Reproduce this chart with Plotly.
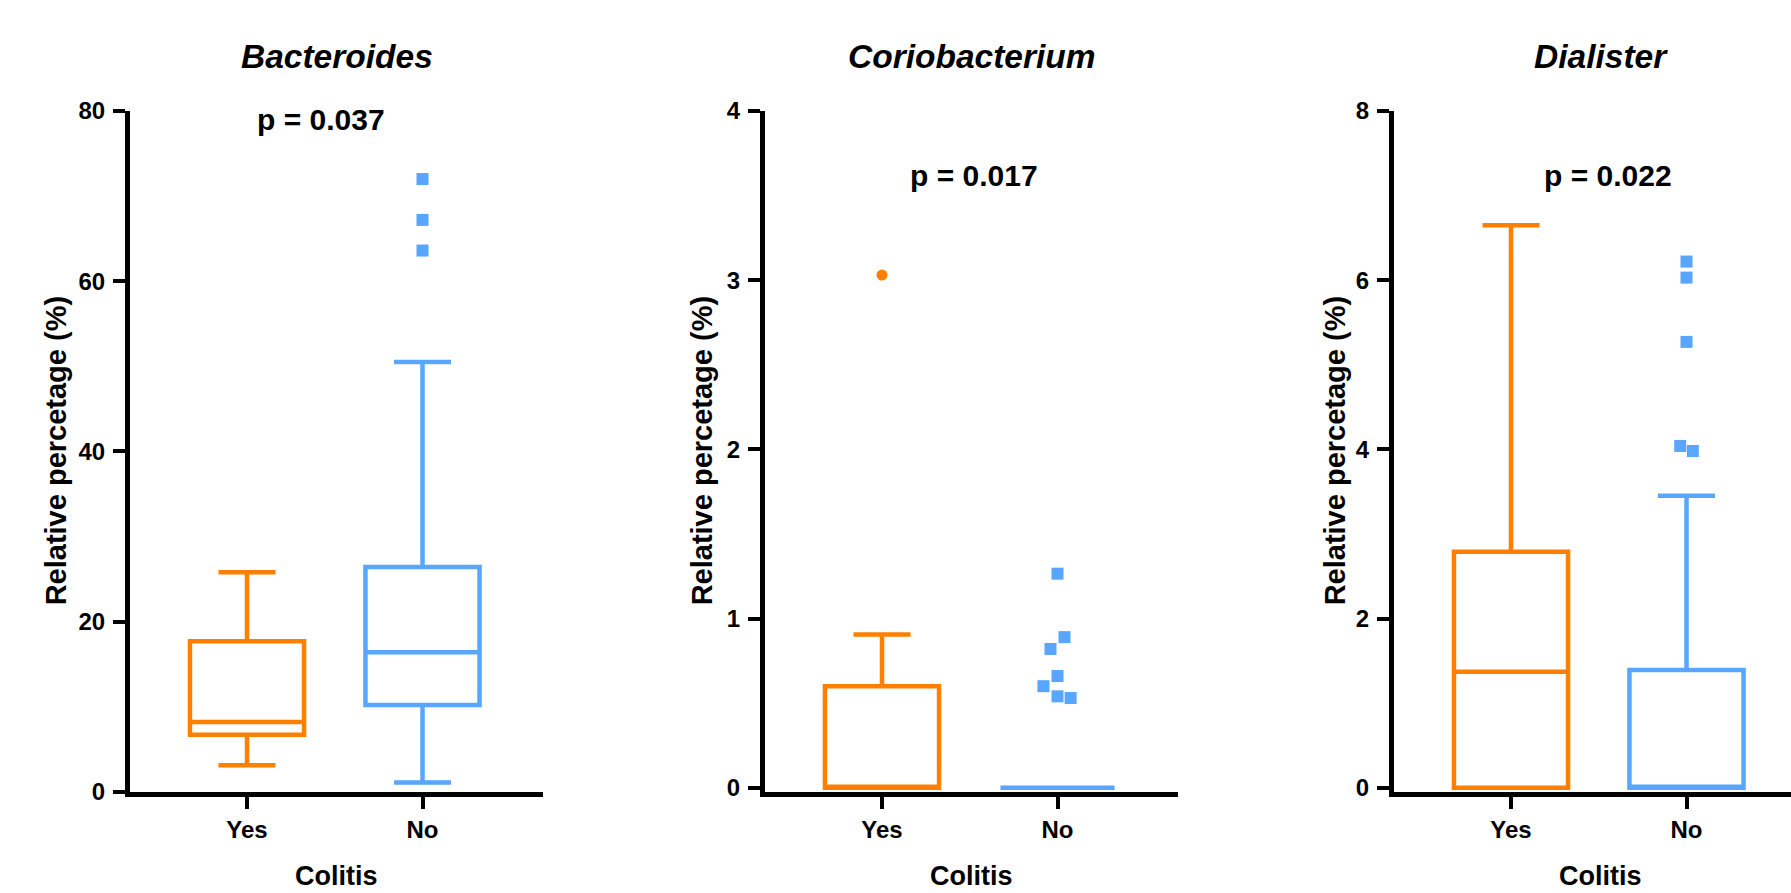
import plotly.graph_objects as go

# ---------------- data ----------------
groups = ["Yes", "No"]
panel_titles = ["Bacteroides", "Coriobacterium", "Dialister"]
p_values = ["p = 0.037", "p = 0.017", "p = 0.022"]

# box statistics per panel: [Yes, No]
bact_q1 = [6.7, 10.2]
bact_median = [8.2, 16.4]
bact_q3 = [17.7, 26.4]
bact_low = [3.1, 1.1]
bact_high = [25.8, 50.5]
bact_out_no = [72.0, 67.2, 63.6]

corio_q1 = [0.0, 0.0]
corio_median = [0.0, 0.0]
corio_q3 = [0.60, 0.0]
corio_low = [0.0, 0.0]
corio_high = [0.905, 0.0]
corio_out_yes = [3.03]
corio_out_no = [1.265, 0.89, 0.82, 0.66, 0.60, 0.54, 0.53]

dial_q1 = [0.0, 0.0]
dial_median = [1.37, 0.0]
dial_q3 = [2.79, 1.39]
dial_low = [0.0, 0.0]
dial_high = [6.65, 3.45]
dial_out_no = [6.22, 6.03, 5.27, 4.04, 3.98]

# horizontal scatter of outlier symbols (category units)
corio_jit_no = [0.0, 0.04, -0.04, 0.0, -0.08, 0.0, 0.075]
dial_jit_no = [0.0, 0.0, 0.0, -0.036, 0.036]

y_ranges = [(0, 80, 20), (0, 4, 1), (0, 8, 2)]

# ---------------- styles ----------------
ORANGE = "#FF8000"
BLUE = "#58A6FF"
FONT = "Arial, Liberation Sans, sans-serif"
W, H = 1791, 893

axis_left_px = [130, 765, 1394]
axis_len_px = 413
yes_off_px = 117
unit_px = 175.5
y0_px, ytop_px = 802, 100

fig = go.Figure()

panels = [
    (bact_q1, bact_median, bact_q3, bact_low, bact_high),
    (corio_q1, corio_median, corio_q3, corio_low, corio_high),
    (dial_q1, dial_median, dial_q3, dial_low, dial_high),
]
colors = [ORANGE, BLUE]

for i, (q1, med, q3, lo, hi) in enumerate(panels):
    xa = "x" if i == 0 else f"x{i+1}"
    ya = "y" if i == 0 else f"y{i+1}"
    for g in range(2):
        fig.add_trace(go.Box(
            x=[g], q1=[q1[g]], median=[med[g]], q3=[q3[g]],
            lowerfence=[lo[g]], upperfence=[hi[g]],
            width=0.65, whiskerwidth=0.5,
            line=dict(color=colors[g], width=4.5),
            fillcolor="rgba(255,255,255,0)",
            boxpoints=False, showlegend=False,
            xaxis=xa, yaxis=ya, hoverinfo="skip",
        ))

# outliers
fig.add_trace(go.Scatter(
    x=[1] * len(bact_out_no), y=bact_out_no, mode="markers",
    marker=dict(symbol="square", size=12, color=BLUE),
    xaxis="x", yaxis="y", showlegend=False, cliponaxis=False))
fig.add_trace(go.Scatter(
    x=[0] * len(corio_out_yes), y=corio_out_yes, mode="markers",
    marker=dict(symbol="circle", size=11, color=ORANGE),
    xaxis="x2", yaxis="y2", showlegend=False, cliponaxis=False))
fig.add_trace(go.Scatter(
    x=[1 + j for j in corio_jit_no], y=corio_out_no, mode="markers",
    marker=dict(symbol="square", size=12, color=BLUE),
    xaxis="x2", yaxis="y2", showlegend=False, cliponaxis=False))
fig.add_trace(go.Scatter(
    x=[1 + j for j in dial_jit_no], y=dial_out_no, mode="markers",
    marker=dict(symbol="square", size=12, color=BLUE),
    xaxis="x3", yaxis="y3", showlegend=False, cliponaxis=False))

ydom = [(H - y0_px) / H, (H - ytop_px) / H]
layout = dict(
    width=W, height=H,
    margin=dict(l=0, r=0, t=0, b=0),
    plot_bgcolor="white", paper_bgcolor="white",
    font=dict(family=FONT, color="black"),
)
annotations = []
for i in range(3):
    left = axis_left_px[i]
    right = min(left + axis_len_px, W)
    xr0 = -yes_off_px / unit_px
    xr1 = xr0 + (right - left) / unit_px
    suffix = "" if i == 0 else str(i + 1)
    layout["xaxis" + suffix] = dict(
        domain=[left / W, right / W], range=[xr0, xr1],
        anchor="y" + suffix, tickvals=[0, 1], ticktext=groups,
        showline=True, linewidth=5, linecolor="black",
        ticks="outside", ticklen=12, tickwidth=4, tickcolor="black",
        tickfont=dict(size=24, family=FONT, weight="bold"),
        showgrid=False, zeroline=False, fixedrange=True,
        ticklabelstandoff=0,
    )
    lo, hi, dt = y_ranges[i]
    pad = 0 if i == 0 else 0.006 * (hi - lo)
    layout["yaxis" + suffix] = dict(
        domain=ydom, range=[lo - pad, hi], dtick=dt, tick0=0,
        anchor="x" + suffix,
        showline=True, linewidth=5, linecolor="black",
        ticks="outside", ticklen=12, tickwidth=4, tickcolor="black",
        tickfont=dict(size=24, family=FONT, weight="bold"),
        showgrid=False, zeroline=False, fixedrange=True,
        ticklabelstandoff=3,
    )
    cx = (left + left + axis_len_px) / 2
    # title
    annotations.append(dict(
        text="<b><i>%s</i></b>" % panel_titles[i], xref="paper", yref="paper",
        x=cx / W, y=1 - 44 / H, showarrow=False, xanchor="center", yanchor="middle",
        font=dict(size=33.5, family=FONT)))
    # x title
    annotations.append(dict(
        text="<b>Colitis</b>", xref="paper", yref="paper",
        x=cx / W, y=1 - 889 / H, showarrow=False, xanchor="center", yanchor="middle",
        font=dict(size=27, family=FONT)))
    # y title
    ylab_x = [56, 702, 1335][i]
    annotations.append(dict(
        text="<b>Relative percetage (%)</b>", xref="paper", yref="paper",
        x=ylab_x / W, y=1 - 451 / H, showarrow=False, textangle=-90,
        xanchor="center", yanchor="middle",
        font=dict(size=29, family=FONT)))
    # p-value
    px, py = [(321, 109), (974, 167), (1608, 167)][i]
    annotations.append(dict(
        text="<b>%s</b>" % p_values[i], xref="paper", yref="paper",
        x=px / W, y=1 - py / H, showarrow=False, xanchor="center", yanchor="middle",
        font=dict(size=30, family=FONT)))

layout["annotations"] = annotations
fig.update_layout(**layout)

fig.write_html("out.html", config={"displayModeBar": False},
               post_script="document.body.style.margin='0';document.body.style.overflow='hidden';")
